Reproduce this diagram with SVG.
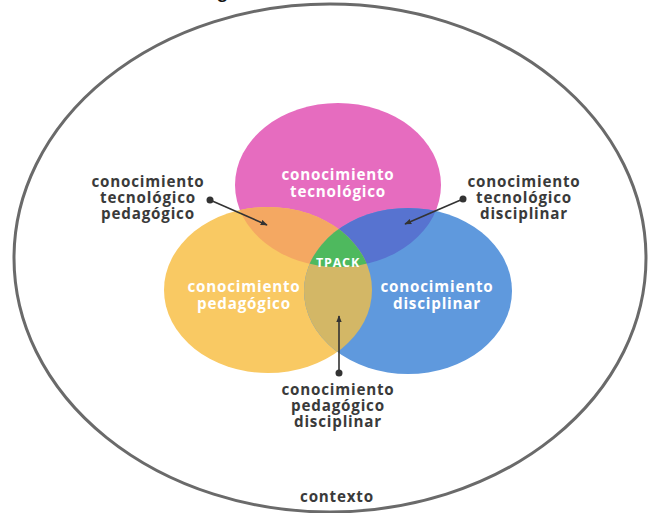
<svg xmlns="http://www.w3.org/2000/svg" width="648" height="513" viewBox="0 0 648 513">
<style>
.in{font-family:"Open Sans","DejaVu Sans",sans-serif;font-weight:bold;font-size:15.2px;fill:#fff;text-anchor:middle;letter-spacing:0.8px}
.out{font-family:"Open Sans","DejaVu Sans",sans-serif;font-weight:bold;font-size:15.2px;fill:#3a3a3a;text-anchor:middle;letter-spacing:0.8px}
.con{stroke:#333;stroke-width:1.6;fill:none}
.dot{fill:#333}
</style>
<defs>
<marker id="ah" viewBox="0 0 10 10" refX="9" refY="5" markerWidth="7" markerHeight="7" orient="auto-start-reverse" markerUnits="userSpaceOnUse">
<path d="M0,1 L10,5 L0,9 z" fill="#333"/>
</marker>
<clipPath id="cT"><ellipse cx="338" cy="185" rx="103" ry="82"/></clipPath>
<clipPath id="cP"><ellipse cx="268" cy="290" rx="104" ry="83"/></clipPath>
<clipPath id="cD"><ellipse cx="408" cy="291" rx="104" ry="83"/></clipPath>
</defs>
<rect width="648" height="513" fill="#fff"/>
<text x="218" y="-2" font-family="Open Sans, sans-serif" font-weight="bold" font-size="16" fill="#111">g</text>
<g id="contexto">
<ellipse cx="330" cy="258" rx="316" ry="254" fill="none" stroke="#6a6a6a" stroke-width="3"/>
<text class="out" x="337" y="502">contexto</text>
</g>
<g id="tecnologico">
<ellipse cx="338" cy="185" rx="103" ry="82" fill="#E66CBF"/>
</g>
<g id="pedagogico">
<ellipse cx="268" cy="290" rx="104" ry="83" fill="#F9C963"/>
</g>
<g id="disciplinar">
<ellipse cx="408" cy="291" rx="104" ry="83" fill="#5F99DD"/>
</g>
<g id="tec-ped">
<ellipse cx="268" cy="290" rx="104" ry="83" fill="#F4A862" clip-path="url(#cT)"/>
</g>
<g id="tec-dis">
<ellipse cx="408" cy="291" rx="104" ry="83" fill="#5773D0" clip-path="url(#cT)"/>
</g>
<g id="ped-dis">
<ellipse cx="408" cy="291" rx="104" ry="83" fill="#D3B766" clip-path="url(#cP)"/>
</g>
<g id="tpack">
<g clip-path="url(#cT)"><g clip-path="url(#cP)"><ellipse cx="408" cy="291" rx="104" ry="83" fill="#4EB95E"/></g></g>
<text class="in" x="338" y="267" style="font-size:12.5px">TPACK</text>
</g>
<g id="labels-in">
<text class="in" x="338" y="180">conocimiento</text>
<text class="in" x="338" y="197">tecnológico</text>
<text class="in" x="244" y="292">conocimiento</text>
<text class="in" x="244" y="309">pedagógico</text>
<text class="in" x="437" y="292">conocimiento</text>
<text class="in" x="437" y="309">disciplinar</text>
</g>
<g id="label-tp">
<text class="out" x="148" y="187">conocimiento</text>
<text class="out" x="148" y="203">tecnológico</text>
<text class="out" x="148" y="219">pedagógico</text>
</g>
<g id="label-td">
<text class="out" x="524" y="187">conocimiento</text>
<text class="out" x="524" y="203">tecnológico</text>
<text class="out" x="524" y="219">disciplinar</text>
</g>
<g id="label-pd">
<text class="out" x="338" y="395">conocimiento</text>
<text class="out" x="338" y="411">pedagógico</text>
<text class="out" x="338" y="427">disciplinar</text>
</g>
<g id="connectors">
<circle class="dot" cx="210" cy="200" r="3.5"/>
<line class="con" x1="210" y1="200" x2="267" y2="225" marker-end="url(#ah)"/>
<circle class="dot" cx="463" cy="199" r="3.5"/>
<line class="con" x1="463" y1="199" x2="405" y2="224" marker-end="url(#ah)"/>
<circle class="dot" cx="339" cy="373" r="3.5"/>
<line class="con" x1="339" y1="373" x2="339" y2="316" marker-end="url(#ah)"/>
</g>
</svg>
